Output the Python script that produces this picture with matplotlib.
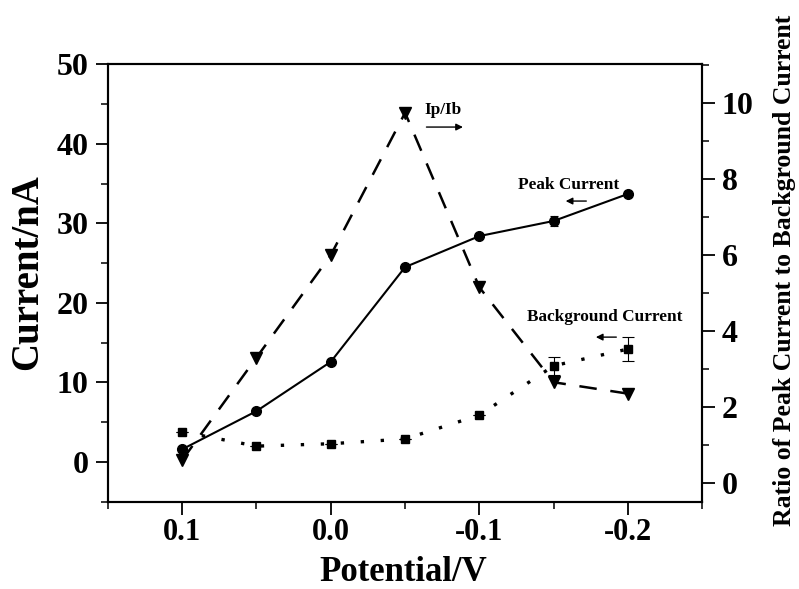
import matplotlib
matplotlib.use("Agg")
import matplotlib.pyplot as plt
from matplotlib.ticker import MultipleLocator

potential = [0.10, 0.05, 0.00, -0.05, -0.10, -0.15, -0.20]
peak_current = [1.6, 6.4, 12.6, 24.5, 28.4, 30.3, 33.7]
peak_err = [0, 0, 0, 0, 0, 0.6, 0.4]
background_current = [3.8, 2.0, 2.3, 2.9, 5.9, 12.1, 14.2]
background_err = [0, 0, 0, 0, 0, 1.15, 1.5]
ratio = [0.6, 3.3, 6.0, 9.75, 5.15, 2.65, 2.35]

x_ticks = [0.1, 0.0, -0.1, -0.2]
x_ticklabels = ["0.1", "0.0", "-0.1", "-0.2"]

plt.rcParams['font.family'] = ['Liberation Serif', 'DejaVu Serif']
plt.rcParams['font.weight'] = 'bold'

fig = plt.figure(figsize=(7.99, 5.89), dpi=100)
ax = fig.add_axes([0.135, 0.148, 0.744, 0.743])
ax2 = ax.twinx()

ax.errorbar(potential, peak_current, yerr=peak_err, color='black', lw=1.5,
            marker='o', ms=7, capsize=3, elinewidth=0.8, capthick=0.8, zorder=3)
ax.errorbar(potential, background_current, yerr=background_err, color='black',
            lw=2.4, ls=(0, (1, 5)), marker='s', ms=6, capsize=4,
            elinewidth=0.8, capthick=0.8, zorder=3)
ax2.plot(potential, ratio, color='black', lw=1.8, ls=(0, (7, 5.5)),
         marker='v', ms=8, zorder=3)

ax.set_xlim(0.15, -0.25)
ax.set_ylim(-5, 50)
ax2.set_ylim(-0.5, 11.03)

ax.set_xticks(x_ticks)
ax.set_xticklabels(x_ticklabels)
ax.xaxis.set_minor_locator(MultipleLocator(0.05))
ax.yaxis.set_major_locator(MultipleLocator(10))
ax.yaxis.set_minor_locator(MultipleLocator(5))
ax2.yaxis.set_major_locator(MultipleLocator(2))
ax2.yaxis.set_minor_locator(MultipleLocator(1))

for a in (ax, ax2):
    for s in a.spines.values():
        s.set_linewidth(1.5)
    a.tick_params(which='major', length=9, width=1.3, direction='out')
    a.tick_params(which='minor', length=5, width=1.1, direction='out')

ax.tick_params(axis='both', which='both', top=False, right=False)
ax.tick_params(axis='x', labelsize=22, pad=3)
ax.tick_params(axis='y', labelsize=23, pad=5)
ax2.tick_params(axis='y', labelsize=23, pad=5)
for lab in ax.get_xticklabels() + ax.get_yticklabels() + ax2.get_yticklabels():
    lab.set_fontweight('bold')

fig.text(403 / 799, 1 - 581 / 589, 'Potential/V', fontsize=25, fontweight='bold',
         ha='center', va='baseline')
fig.text(28 / 799, 1 - 272 / 589, 'Current/nA', fontsize=28, fontweight='bold',
         ha='center', va='center', rotation=90)
fig.text(785 / 799, 1 - 270 / 589, 'Ratio of Peak Current to Background Current',
         fontsize=18.5, fontweight='bold', ha='center', va='center', rotation=90)

arrow = dict(arrowstyle='-|>', color='black', lw=1.0, mutation_scale=10)
fs = 12.4
ax.text(-0.0753, 44.2, 'Ip/Ib', fontsize=fs, fontweight='bold', ha='center', va='center')
ax.annotate('', xy=(-0.0908, 42.1), xytext=(-0.0625, 42.1), arrowprops=arrow)
ax.text(-0.160, 34.8, 'Peak Current', fontsize=fs, fontweight='bold', ha='center', va='center')
ax.annotate('', xy=(-0.1562, 32.8), xytext=(-0.1738, 32.8), arrowprops=arrow)
ax.text(-0.1846, 18.2, 'Background Current', fontsize=fs, fontweight='bold', ha='center', va='center')
ax.annotate('', xy=(-0.1765, 15.7), xytext=(-0.194, 15.7), arrowprops=arrow)

fig.savefig('out.png', dpi=100)
